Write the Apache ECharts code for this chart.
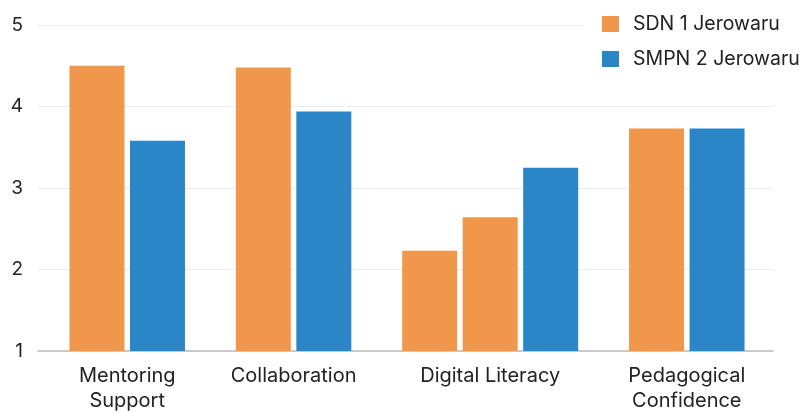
<!DOCTYPE html>
<html>
<head>
<meta charset="utf-8">
<script src="https://cdn.jsdelivr.net/npm/echarts@6/dist/echarts.min.js"></script>
<style>
html,body{margin:0;padding:0;background:#fff;}
#chart{width:802px;height:413px;}
</style>
</head>
<body>
<div id="chart"></div>
<script>
// ---- data ----
const categories = ['Mentoring\nSupport', 'Collaboration', 'Digital Literacy', 'Pedagogical\nConfidence'];
const sdn1Jerowaru = [4.50, 4.48, 2.23, 3.73];
const sdn1JerowaruSecond = [null, null, 2.64, null];   // second SDN bar in Digital Literacy
const smpn2Jerowaru = [3.58, 3.94, 3.25, 3.73];
const yTicks = [1, 2, 3, 4, 5];
const seriesNames = ['SDN 1 Jerowaru', 'SMPN 2 Jerowaru'];

// ---- layout of groups along a value axis (1 unit = one bar slot) ----
const groupGap = 0.75;
const sdnData = [], smpnData = [], centers = [];
let start = 0;
categories.forEach((c, i) => {
  const bars = [];
  if (sdn1Jerowaru[i] != null) bars.push([0, sdn1Jerowaru[i]]);
  if (sdn1JerowaruSecond[i] != null) bars.push([0, sdn1JerowaruSecond[i]]);
  if (smpn2Jerowaru[i] != null) bars.push([1, smpn2Jerowaru[i]]);
  bars.forEach((b, k) => {
    const x = start + k + 0.5;
    (b[0] === 0 ? sdnData : smpnData).push([x, b[1]]);
  });
  centers.push(start + bars.length / 2);
  start += bars.length + groupGap;
});
const totalUnits = start - groupGap;

const chart = echarts.init(document.getElementById('chart'), null, {renderer: 'canvas'});
const font = 'Inter, "Noto Sans", sans-serif';
chart.setOption({
  animation: false,
  backgroundColor: '#fff',
  textStyle: {fontFamily: font},
  grid: {left: 38, right: 29, top: 25, bottom: 60, containLabel: false},
  legend: {
    data: seriesNames,
    orient: 'vertical',
    left: 583, top: 7,
    padding: [7, 2, 7, 19],
    backgroundColor: '#fff',
    icon: 'rect',
    itemWidth: 17, itemHeight: 16,
    itemGap: 15,
    textStyle: {fontFamily: font, fontSize: 19.5, color: '#222', padding: [0, 0, 0, 9]}
  },
  xAxis: {
    type: 'value',
    min: -0.475,
    max: totalUnits + 0.425,
    splitLine: {show: false},
    axisTick: {show: false},
    axisLine: {show: true, onZero: false, lineStyle: {color: '#bcbcbc', width: 1.5}},
    axisLabel: {
      customValues: centers,
      formatter: (v) => {
        const idx = centers.findIndex(c => Math.abs(c - v) < 1e-6);
        return idx >= 0 ? categories[idx] : '';
      },
      fontFamily: font, fontSize: 20, color: '#222', lineHeight: 25, margin: 12
    }
  },
  yAxis: {
    type: 'value',
    min: 1, max: 5, interval: 1,
    axisLine: {show: false},
    axisTick: {show: false},
    splitLine: {lineStyle: {color: '#ebebeb', width: 1}},
    axisLabel: {fontFamily: font, fontSize: 19, color: '#222', margin: 15,
      customValues: yTicks}
  },
  series: [
    {name: seriesNames[0], type: 'bar', data: sdnData, barWidth: 55, barGap: '-100%',
      itemStyle: {color: '#F0974B'}},
    {name: seriesNames[1], type: 'bar', data: smpnData, barWidth: 55, barGap: '-100%',
      itemStyle: {color: '#2A86C6'}}
  ]
});
</script>
</body>
</html>
